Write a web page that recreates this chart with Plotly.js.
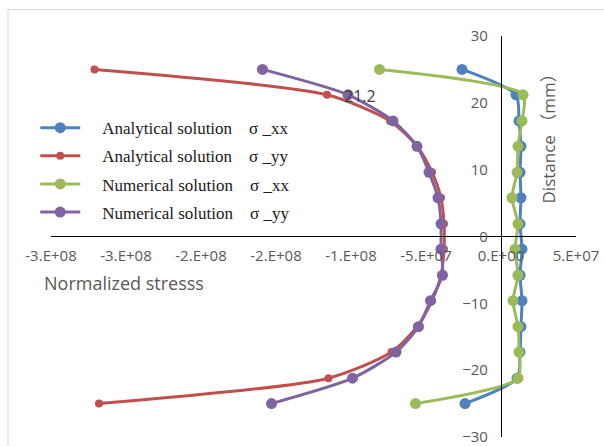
<!DOCTYPE html>
<html>
<head>
<meta charset="utf-8">
<script src="https://cdn.plot.ly/plotly-3.0.1.min.js"></script>
<style>html,body{margin:0;padding:0;background:#fff;}#chart{width:604px;height:446px;}</style>
</head>
<body>
<div id="chart"></div>
<script>
// Distance (mm) for every series
const distance = [25, 21.2, 17.3, 13.5, 9.6, 5.8, 1.9, -1.9, -5.8, -9.6, -13.5, -17.3, -21.2, -25];
// Normalized stress values
const analyticalXX = [-2.6e7, 1.0e7, 1.2e7, 1.33e7, 1.27e7, 1.33e7, 1.27e7, 1.4e7, 1.27e7, 1.4e7, 1.33e7, 1.27e7, 1.07e7, -2.4e7];
const analyticalYY = [-2.71e8, -1.16e8, -7.4e7, -5.6e7, -4.6e7, -4.0e7, -3.8e7, -3.8e7, -4.0e7, -4.6e7, -5.6e7, -7.3e7, -1.15e8, -2.68e8];
const numericalXX = [-8.1e7, 1.47e7, 1.4e7, 1.13e7, 1.07e7, 7.3e6, 1.13e7, 9.3e6, 1.13e7, 8.0e6, 1.13e7, 1.2e7, 1.13e7, -5.7e7];
const numericalYY = [-1.59e8, -1.02e8, -7.2e7, -5.6e7, -4.8e7, -4.2e7, -4.0e7, -4.0e7, -3.9e7, -4.7e7, -5.5e7, -7.0e7, -9.9e7, -1.53e8];

const seriesNames = ['Analytical solution\u2003\u03c3 _xx', 'Analytical solution\u2003\u03c3 _yy', 'Numerical solution\u2003\u03c3 _xx', 'Numerical solution\u2003\u03c3 _yy'];
const xTickVals = [-3e8, -2.5e8, -2e8, -1.5e8, -1e8, -5e7, 0, 5e7];
const xTickText = ['-3.E+08', '-3.E+08', '-2.E+08', '-2.E+08', '-1.E+08', '-5.E+07', '0.E+00', '5.E+07'];
const yTickVals = [-30, -20, -10, 0, 10, 20, 30];
const dataLabel = {x: analyticalYY[1], y: distance[1], text: String(distance[1])};

const colors = ['#4F81BD', '#C0504D', '#9BBB59', '#8064A2'];
const markerSizes = [11, 8, 11, 11];
const seriesX = [analyticalXX, analyticalYY, numericalXX, numericalYY];

const traces = seriesX.map((xs, i) => ({
  type: 'scatter',
  mode: 'lines+markers',
  x: xs,
  y: distance,
  name: '\u2003' + seriesNames[i],
  legendgroup: 'g' + i,
  line: {color: colors[i], width: 3, shape: 'spline', smoothing: 0.7},
  marker: {color: colors[i], size: markerSizes[i]},
  cliponaxis: false
}));

const tickFont = {family: 'Open Sans, Noto Sans, sans-serif', size: 15, color: '#595959'};

const layout = {
  width: 604, height: 446,
  margin: {l: 51, r: 28, t: 36, b: 9},
  paper_bgcolor: '#fff', plot_bgcolor: 'rgba(0,0,0,0)',
  showlegend: true,
  legend: {
    x: -0.03, xanchor: 'left', y: 0.815, yanchor: 'top',
    traceorder: 'grouped', tracegroupgap: 3,
    font: {family: 'Liberation Serif, serif', size: 17, color: '#1a1a1a'},
    bgcolor: 'rgba(0,0,0,0)', itemwidth: 40
  },
  xaxis: {
    range: [-3e8, 5e7], tickmode: 'array', tickvals: xTickVals, ticktext: xTickText,
    showgrid: false, zeroline: false, showline: true, linecolor: '#000', linewidth: 1,
    anchor: 'free', position: 0.5012, side: 'bottom', ticks: '',
    ticklabelstandoff: 6, tickfont: tickFont, ticklabeloverflow: 'allow'
  },
  yaxis: {
    range: [-30, 30], tickmode: 'array', tickvals: yTickVals,
    showgrid: false, zeroline: false, showline: true, linecolor: '#000', linewidth: 1,
    anchor: 'free', position: 0.857, side: 'left', ticks: '',
    ticklabelstandoff: 10, tickfont: tickFont, ticklabeloverflow: 'allow'
  },
  annotations: [
    {xref: 'paper', yref: 'paper', x: (548 - 51) / 525, y: (437.5 - 135) / 401, text: 'Distance （mm）',
     textangle: -90, showarrow: false, xanchor: 'center', yanchor: 'middle',
     font: {family: 'Open Sans, Noto Sans CJK SC, sans-serif', size: 17, color: '#595959'}},
    {xref: 'paper', yref: 'paper', x: (42 - 51) / 525, y: (437.5 - 283) / 401, text: 'Normalized stresss',
     showarrow: false, xanchor: 'left', yanchor: 'middle',
     font: {family: 'Open Sans, Noto Sans, sans-serif', size: 18, color: '#595959'}},
    {x: dataLabel.x, y: dataLabel.y, text: dataLabel.text, showarrow: false,
     xanchor: 'left', yanchor: 'middle', xshift: 15, yshift: -1,
     font: {family: 'Open Sans, Noto Sans, sans-serif', size: 16, color: '#404040'}}
  ],
  shapes: [
    {type: 'line', xref: 'paper', yref: 'paper', x0: (8 - 51) / 525, x1: 1.2, y0: (437.5 - 10) / 401, y1: (437.5 - 10) / 401,
     line: {color: '#d9d9d9', width: 1}},
    {type: 'line', xref: 'paper', yref: 'paper', x0: (8 - 51) / 525, x1: (8 - 51) / 525, y0: (437.5 - 10) / 401, y1: -0.2,
     line: {color: '#d9d9d9', width: 1}}
  ]
};

Plotly.newPlot('chart', traces, layout, {displayModeBar: false, staticPlot: true});
</script>
</body>
</html>
